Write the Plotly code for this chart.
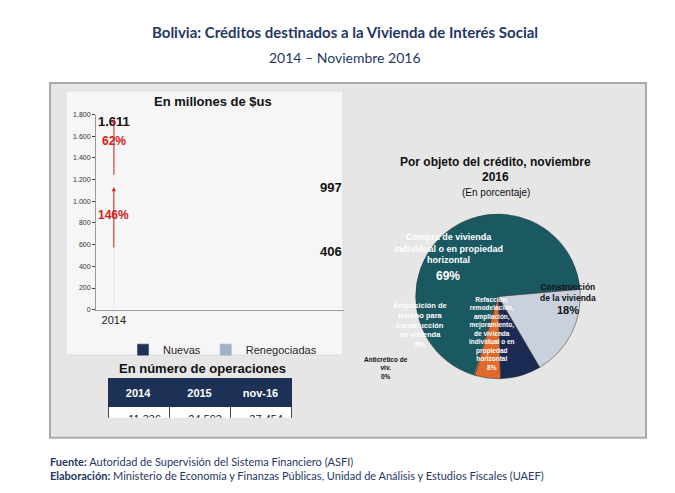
import plotly.graph_objects as go

years = ["2014", "2015", "Nov-16"]
nuevas = [285, 831, 1443]
reneg = [121, 166, 168]
totals = [406, 997, 1611]
growth = ["146%", "62%"]

ops_years = ["2014", "2015", "nov-16"]
ops_vals = ["11.336", "24.593", "37.454"]

pie_labels = ["Construcción<br>de la vivienda", "Refacción,<br>remodelación,<br>ampliación,<br>mejoramiento,<br>de vivienda<br>individual o en<br>propiedad<br>horizontal",
              "Adquisición de<br>terreno para<br>construcción<br>de vivienda", "Anticrético de<br>viv.", "Compra de vivienda<br>individual o en propiedad<br>horizontal"]
pie_vals = [18, 8, 5, 0.3, 69]
pie_pct = ["18%", "8%", "5%", "0%", "69%"]
pie_colors = ["#c9d1dc", "#1b2a52", "#e06a2a", "#8a8a8a", "#1a5862"]

W, H = 675, 493
def fx(p): return p / W
def fy(p): return 1 - p / H

fig = go.Figure()
fig.add_trace(go.Bar(x=years, y=nuevas, name="Nuevas", marker_color="#1c3155",
                     text=[f"{v:,}".replace(",", ".") for v in nuevas], textposition="inside",
                     insidetextanchor="middle", textfont=dict(color="white", size=13, family="Liberation Sans"),
                     width=0.68))
fig.add_trace(go.Bar(x=years, y=reneg, name="Renegociadas", marker_color="#9fb1c6",
                     text=[str(v) for v in reneg], textposition="inside", insidetextanchor="middle",
                     textfont=dict(color="#1c2a40", size=11, family="Liberation Sans"), width=0.68))
fig.add_trace(go.Pie(labels=pie_labels, values=pie_vals, sort=False, direction="clockwise", rotation=85,
                     marker=dict(colors=pie_colors, line=dict(color="#333", width=0.5)), textinfo="none",
                     hoverinfo="label+percent", showlegend=False,
                     domain=dict(x=[fx(380), fx(600)], y=[fy(372), fy(205)])))
fig.add_trace(go.Table(domain=dict(x=[fx(100), fx(283)], y=[fy(412), fy(372)]),
                       columnwidth=[1, 1, 1],
                       header=dict(values=[f"<b>{v}</b>" for v in ops_years], fill_color="#1c3155",
                                   font=dict(color="white", size=11, family="Liberation Sans"), height=15, align="center",
                                   line_color="#1c3155"),
                       cells=dict(values=[[v] for v in ops_vals], fill_color="white", height=20, align="right",
                                  font=dict(color="#222", size=11, family="Liberation Sans"), line_color="#444")))

for i, t in enumerate(totals):
    fig.add_annotation(x=years[i], y=t, text=f"<b>{t:,}</b>".replace(",", "."), showarrow=False, yshift=14,
                       font=dict(size=13, color="#111", family="Liberation Sans"))
arrows = [((0, 560), (0.6, 1130), (-0.05, 870)), ((1.05, 1230), (1.6, 1760), (1.1, 1560))]
for (s, e, lab), g in zip(arrows, growth):
    fig.add_annotation(x=e[0], y=e[1], ax=s[0], ay=s[1], axref="x", ayref="y", xref="x", yref="y",
                       showarrow=True, arrowhead=2, arrowsize=0.8, arrowwidth=1, arrowcolor="#d42020", text="")
    fig.add_annotation(x=lab[0], y=lab[1], text=f"<b>{g}</b>", showarrow=False,
                       font=dict(size=12, color="#d42020", family="Liberation Sans"))

A = []
def ann(x, y, t, size=11, color="#111", fam="Liberation Sans", bold=True):
    A.append(dict(xref="paper", yref="paper", x=fx(x), y=fy(y), text=(f"<b>{t}</b>" if bold else t), showarrow=False,
                  xanchor="center", yanchor="middle",
                  font=dict(size=size, color=color, family=fam), align="center"))
ann(337, 20, "Bolivia: Créditos destinados a la Vivienda de Interés Social", 15, "#1f3864", "Lato")
ann(337, 46, "2014 – Noviembre 2016", 14, "#1f3864", "Lato", bold=False)
ann(205, 91, "En millones de $us", 13)
ann(195, 362, "En número de operaciones", 13)
ann(488, 152, "Por objeto del crédito, noviembre", 12)
ann(488, 167, "2016", 12)
ann(488, 183, "(En porcentaje)", 10, bold=False)
ann(440, 240, "Compra de vivienda<br>individual o en propiedad<br>horizontal", 9, "white")
ann(440, 268, "69%", 12, "white")
ann(560, 285, "Construcción<br>de la vivienda", 8.5, "#111")
ann(560, 302, "18%", 11, "#111")
ann(412, 318, "Adquisición de<br>terreno para<br>construcción<br>de vivienda<br>5%", 7.5, "white")
ann(484, 326, "Refacción,<br>remodelación,<br>ampliación,<br>mejoramiento,<br>de vivienda<br>individual o en<br>propiedad<br>horizontal<br>8%", 6.5, "white")
ann(378, 361, "Anticrético de<br>viv.<br>0%", 6.5, "#111")

fig.add_annotation(xref="paper", yref="paper", x=fx(40), y=fy(463), xanchor="left", yanchor="middle", showarrow=False, align="left",
                   text="<b>Fuente:</b> Autoridad de Supervisión del Sistema Financiero (ASFI)<br><b>Elaboración:</b> Ministerio de Economía y Finanzas Públicas, Unidad de Análisis y Estudios Fiscales (UAEF)",
                   font=dict(size=11, color="#1f3864", family="Lato"))
for a in A:
    fig.add_annotation(**a)

fig.add_shape(type="rect", xref="paper", yref="paper", x0=fx(42), x1=fx(638), y0=fy(432), y1=fy(72),
              fillcolor="#e6e6e6", line=dict(color="#aaa", width=2), layer="below")
fig.add_shape(type="rect", xref="paper", yref="paper", x0=fx(58), x1=fx(335), y0=fy(348), y1=fy(80),
              fillcolor="#f6f6f6", line=dict(color="#ddd", width=1), layer="below")

fig.update_layout(width=W, height=H, margin=dict(l=0, r=0, t=0, b=0), paper_bgcolor="white",
                  plot_bgcolor="rgba(0,0,0,0)", barmode="stack", bargap=0.32,
                  xaxis=dict(type="category", domain=[fx(88), fx(336)],
                             tickfont=dict(size=11, family="Liberation Sans", color="#222"),
                             showline=True, linecolor="#999", ticks=""),
                  yaxis=dict(domain=[fy(302), fy(104)], range=[0, 1800], dtick=200, tickformat=",d",
                             tickfont=dict(size=7, family="Liberation Sans", color="#333"),
                             showgrid=False, showline=True, linecolor="#999", ticks="outside", ticklen=3),
                  separators=",.",
                  legend=dict(orientation="h", x=fx(115), y=fy(328), xanchor="left", yanchor="top",
                              traceorder="normal",
                              font=dict(size=11, family="Liberation Sans", color="#222"), bgcolor="rgba(0,0,0,0)"),
                  showlegend=True)
fig.write_html("out.html")
